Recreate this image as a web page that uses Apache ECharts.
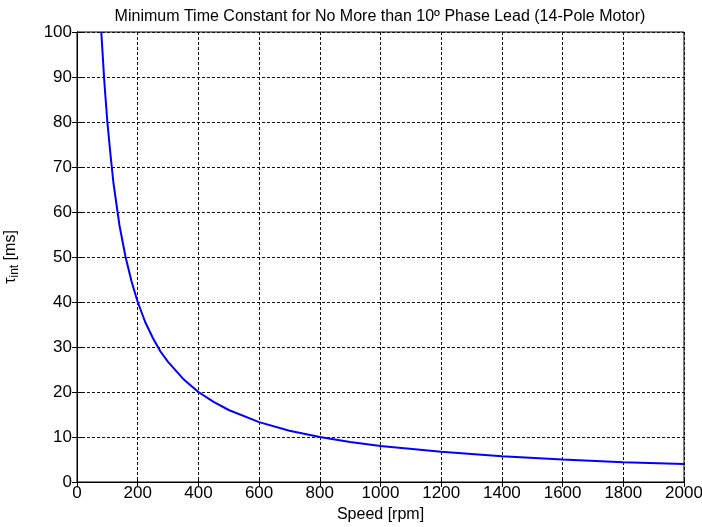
<!DOCTYPE html>
<html>
<head>
<meta charset="utf-8">
<script src="https://cdn.jsdelivr.net/npm/echarts@6/dist/echarts.min.js"></script>
<style>html,body{margin:0;padding:0;background:#fff}#c{width:702px;height:527px}</style>
</head>
<body>
<div id="c"></div>
<script>
// Values
var speed = [80, 90, 100, 110, 120, 140, 160, 180, 200, 225, 250, 275, 300, 350, 400, 450, 500, 600, 700, 800, 900, 1000, 1200, 1400, 1600, 1800, 2000];
var tau   = [100, 89, 80, 73, 66.5, 57, 50, 44.5, 40, 35.5, 32, 29, 26.7, 22.9, 20, 17.8, 16, 13.3, 11.4, 10, 8.9, 8, 6.7, 5.7, 5, 4.4, 4];
var xTicks = [0, 200, 400, 600, 800, 1000, 1200, 1400, 1600, 1800, 2000];
var yTicks = [0, 10, 20, 30, 40, 50, 60, 70, 80, 90, 100];
var titleText = 'Minimum Time Constant for No More than 10º Phase Lead (14-Pole Motor)';
var xName = 'Speed [rpm]';

var pts = speed.map(function (s, i) { return [s, tau[i]]; });
var font = 'Liberation Sans, Arial, sans-serif';
var chart = echarts.init(document.getElementById('c'));
var tickStyle = { show: true, inside: true, length: 5, lineStyle: { color: '#000', width: 1 } };
var axisLineStyle = { show: true, lineStyle: { color: '#000', width: 1 } };
var split = { show: true, lineStyle: { color: '#111', type: [3, 2], width: 1 } };

chart.setOption({
  animation: false,
  backgroundColor: '#fff',
  title: {
    text: titleText, left: 375, top: 4, textAlign: 'center',
    textStyle: { fontFamily: font, fontSize: 16, fontWeight: 'normal', color: '#000' }
  },
  grid: { left: 77, right: 18, top: 32, bottom: 45, show: true, borderColor: '#000', borderWidth: 1, outerBoundsMode: 'none', containLabel: false },
  xAxis: [{
    type: 'value', min: xTicks[0], max: xTicks[xTicks.length - 1], interval: 200,
    name: xName, nameLocation: 'middle', nameGap: 25,
    nameTextStyle: { fontFamily: font, fontSize: 16, color: '#000' },
    axisLine: axisLineStyle, axisTick: tickStyle, splitLine: split,
    axisLabel: { fontFamily: font, fontSize: 17, color: '#000', margin: 3, formatter: function (v) { return String(v); } }
  }, {
    type: 'value', position: 'top', min: 0, max: 2000, interval: 200,
    axisLine: axisLineStyle, axisTick: tickStyle, splitLine: { show: false }, axisLabel: { show: false }
  }],
  yAxis: [{
    type: 'value', min: yTicks[0], max: yTicks[yTicks.length - 1], interval: 10,
    name: '{t|τ}{s|int}{t| [ms]}', nameLocation: 'middle', nameGap: 56, nameRotate: 90,
    nameTextStyle: {
      rich: {
        t: { fontFamily: font, fontSize: 16, color: '#000' },
        s: { fontFamily: font, fontSize: 12, color: '#000', verticalAlign: 'bottom', padding: [8, 0, 0, 0] }
      }
    },
    axisLine: axisLineStyle, axisTick: tickStyle, splitLine: split,
    axisLabel: { fontFamily: font, fontSize: 17, color: '#000', margin: 5, formatter: function (v) { return String(v); } }
  }, {
    type: 'value', position: 'right', min: 0, max: 100, interval: 10,
    axisLine: axisLineStyle, axisTick: tickStyle, splitLine: { show: false }, axisLabel: { show: false }
  }],
  series: [{
    type: 'line', data: pts, showSymbol: false, symbol: 'none',
    lineStyle: { color: '#0000ff', width: 2 }, xAxisIndex: 0, yAxisIndex: 0
  }]
});
</script>
</body>
</html>
